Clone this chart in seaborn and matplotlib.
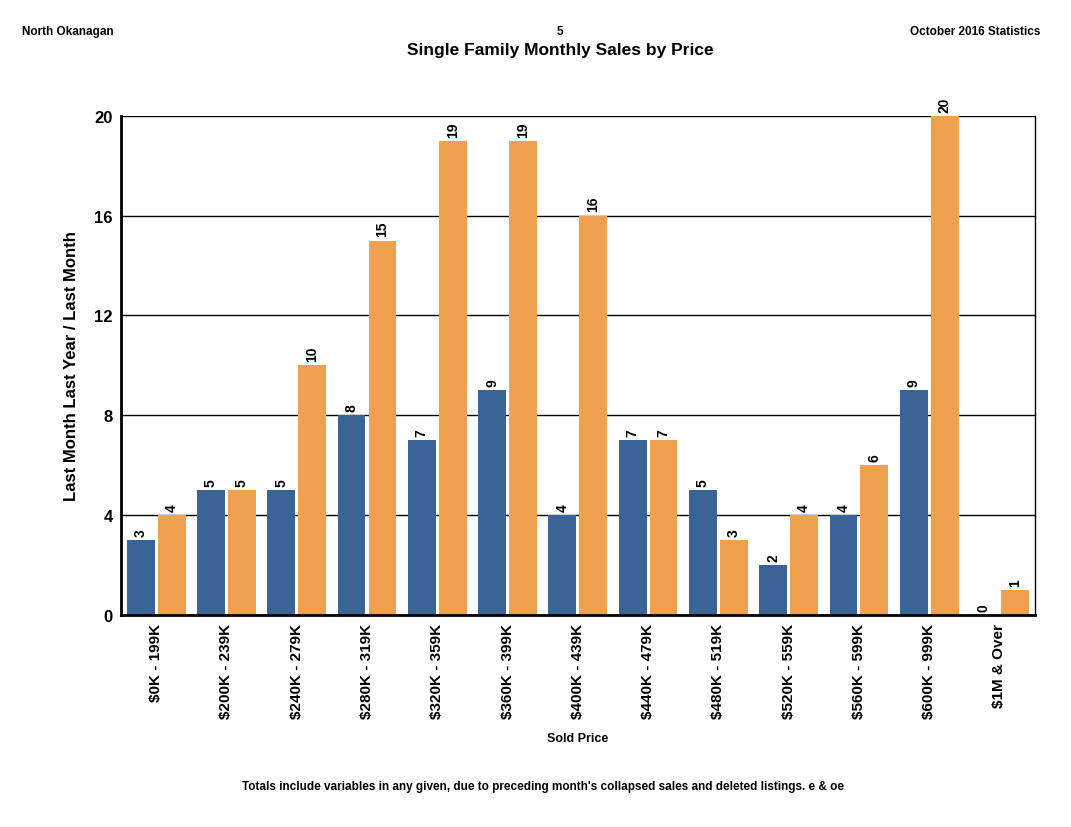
import matplotlib
matplotlib.use("Agg")
from matplotlib import pyplot as plt
import seaborn as sns
import pandas as pd

# ------------------------------------------------
# ----- Datos ------------------------------------
# ------------------------------------------------
categories = ["$0K - 199K", "$200K - 239K", "$240K - 279K", "$280K - 319K",
              "$320K - 359K", "$360K - 399K", "$400K - 439K", "$440K - 479K",
              "$480K - 519K", "$520K - 559K", "$560K - 599K", "$600K - 999K",
              "$1M & Over"]
last_year = [3, 5, 5, 8, 7, 9, 4, 7, 5, 2, 4, 9, 0]
last_month = [4, 5, 10, 15, 19, 19, 16, 7, 3, 4, 6, 20, 1]
series_names = ["Last Month Last Year", "Last Month"]
y_ticks = [0, 4, 8, 12, 16, 20]

df = pd.DataFrame({
    "cat": categories * 2,
    "val": last_year + last_month,
    "serie": [series_names[0]] * len(categories) + [series_names[1]] * len(categories),
})

sns.set_style("white")
plt.rcParams['font.family'] = ['Liberation Sans', 'DejaVu Sans']
plt.rcParams['text.color'] = 'black'
plt.rcParams['axes.labelcolor'] = 'black'
plt.rcParams['xtick.color'] = 'black'
plt.rcParams['ytick.color'] = 'black'

fig = plt.figure(figsize=(10.71, 8.28), dpi=100)
ax = fig.add_axes([0.113, 0.256, 0.853, 0.603])

sns.barplot(data=df, x="cat", y="val", hue="serie", ax=ax,
            palette=["#3A6496", "#F0A150"], width=0.88, gap=0.1,
            saturation=1, legend=False, linewidth=0)

ax.set_ylim(0, 20)
ax.set_xlim(-0.5, len(categories) - 0.5)
ax.set_yticks(y_ticks)
ax.set_yticklabels([str(t) for t in y_ticks], fontsize=12, fontweight='bold')
ax.set_xticks(range(len(categories)))
ax.set_xticklabels([c.replace("$", r"\$") for c in categories], rotation=90,
                   fontsize=11, fontweight='bold')
ax.tick_params(axis='both', length=0, pad=6)
ax.set_axisbelow(True)
ax.yaxis.grid(True, color='black', linewidth=1)

for side in ['left', 'bottom']:
    ax.spines[side].set_linewidth(2)
    ax.spines[side].set_color('black')
ax.spines['right'].set_linewidth(1)
ax.spines['right'].set_color('black')
ax.spines['top'].set_visible(False)

for cont in ax.containers:
    ax.bar_label(cont, labels=[str(int(v)) for v in cont.datavalues],
                 rotation=90, fontsize=10, fontweight='bold', padding=3,
                 color='black')

ax.set_ylabel("Last Month Last Year / Last Month", fontsize=12,
              fontweight='bold', labelpad=11)
ax.set_xlabel("Sold Price", fontsize=9, fontweight='bold', labelpad=10)

fig.text(22 / 1071, 1 - 32 / 828, "North Okanagan", fontsize=8.5,
         fontweight='bold', va='center', ha='left')
fig.text(560 / 1071, 1 - 32 / 828, "5", fontsize=8.5,
         fontweight='bold', va='center', ha='center')
fig.text(1040 / 1071, 1 - 32 / 828, "October 2016 Statistics", fontsize=8.5,
         fontweight='bold', va='center', ha='right')
fig.text(560 / 1071, 1 - 51 / 828, "Single Family Monthly Sales by Price",
         fontsize=12.5, fontweight='bold', va='center', ha='center')
fig.text(543 / 1071, 1 - 787 / 828,
         "Totals include variables in any given, due to preceding month's "
         "collapsed sales and deleted listings. e & oe",
         fontsize=8.5, fontweight='bold', va='center', ha='center')

fig.savefig("out.png", dpi=100)
